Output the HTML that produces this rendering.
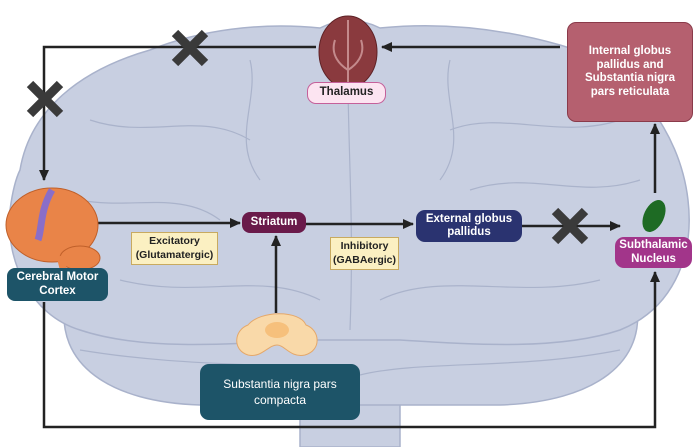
<!DOCTYPE html>
<html><head><meta charset="utf-8"><style>
html,body{margin:0;padding:0;background:#fff;}
body{width:699px;height:447px;position:relative;overflow:hidden;font-family:"Liberation Sans",sans-serif;}
.b{position:absolute;box-sizing:border-box;display:flex;align-items:center;justify-content:center;text-align:center;font-weight:bold;font-size:11.5px;line-height:13.5px;color:#fff;}
</style></head><body>
<svg width="699" height="447" style="position:absolute;left:0;top:0">
<defs><marker id="a" markerWidth="11" markerHeight="10" refX="10" refY="5" orient="auto" markerUnits="userSpaceOnUse"><path d="M0,0 L11,5 L0,10z" fill="#222"/></marker></defs>
<g fill="#c8cfe1" stroke="#a9b2cb" stroke-width="1.5">
<path d="M300,380 L300,447 L400,447 L400,380z"/>
<path d="M65,300 C55,365 110,402 200,405 L500,405 C595,402 648,362 636,300z"/>
<path d="M20,170 C30,110 80,70 150,50 C200,30 260,22 320,28 C340,18 360,18 380,28 C440,22 500,28 560,45 C630,65 680,130 688,200 C695,260 670,310 620,330 C560,350 480,345 400,340 L300,340 C220,345 140,350 80,330 C30,315 5,260 10,210 C12,195 15,180 20,170z"/>
</g>
<g fill="none" stroke="#aab3cb" stroke-width="1.2">
<path d="M349,30 C345,120 355,200 350,330"/>
<path d="M90,120 C150,140 200,110 250,140 M450,130 C500,110 560,140 620,120 M80,200 C130,210 180,190 220,220 M470,190 C530,170 580,200 640,180 M120,280 C200,300 260,270 320,300 M380,300 C440,270 520,300 600,280 M80,350 C200,370 300,360 340,375 M360,375 C420,360 520,370 620,350 M250,60 C260,100 230,140 260,180 M450,60 C440,100 470,140 440,180"/>
</g>
<g stroke="#222" stroke-width="2.5" fill="none">
<path d="M316,47 L44,47 L44,180" marker-end="url(#a)"/>
<path d="M560,47 L382,47" marker-end="url(#a)"/>
<path d="M98,223 L240,223" marker-end="url(#a)"/>
<path d="M306,224 L413,224" marker-end="url(#a)"/>
<path d="M522,226 L620,226" marker-end="url(#a)"/>
<path d="M276,313 L276,236" marker-end="url(#a)"/>
<path d="M655,193 L655,124" marker-end="url(#a)"/>
<path d="M44,302 L44,427 L655,427 L655,272" marker-end="url(#a)"/>
</g>
<g stroke="#3a3a3a" stroke-width="9">
<path d="M175,33 L205,63 M205,33 L175,63"/>
<path d="M30,84 L60,114 M60,84 L30,114"/>
<path d="M555,211 L585,241 M585,211 L555,241"/>
</g>
<ellipse cx="348" cy="52" rx="29" ry="36" fill="#8a3a3e" stroke="#5e2226"/>
<path d="M348,20 L348,88 M335,40 C330,55 340,65 348,70 M361,40 C366,55 356,65 348,70" stroke="#c48a8c" stroke-width="2" fill="none"/>
<ellipse cx="52" cy="225" rx="46" ry="37" fill="#e98448" stroke="#c0602a"/>
<ellipse cx="80" cy="258" rx="20" ry="12" fill="#e98448" stroke="#c0602a"/>
<path d="M60,256 L66,280" stroke="#e98448" stroke-width="7"/>
<path d="M52,190 C40,210 42,230 38,240" stroke="#8a6ec8" stroke-width="7" fill="none"/>
<ellipse cx="654" cy="216" rx="10" ry="17" transform="rotate(25 654 216)" fill="#1e6b24"/>
<path d="M248,325 C260,310 300,310 306,325 C320,330 322,350 305,355 C290,358 285,345 277,345 C268,345 262,358 248,355 C232,350 234,330 248,325z" fill="#f9d9a9" stroke="#e5a86a"/>
<ellipse cx="277" cy="330" rx="12" ry="8" fill="#f6c07c"/>
</svg>
<div class="b" style="left:307px;top:82px;width:79px;height:22px;background:#fce4f1;border:1.5px solid #c5609a;border-radius:9px;color:#222;">Thalamus</div>
<div class="b" style="left:567px;top:22px;width:126px;height:100px;background:#b5606f;border:1.5px solid #8a3a4a;border-radius:9px;padding:0 6px;">Internal globus pallidus and Substantia nigra pars reticulata</div>
<div class="b" style="left:7px;top:268px;width:101px;height:33px;background:#1d5468;border-radius:8px;">Cerebral Motor Cortex</div>
<div class="b" style="left:242px;top:212px;width:64px;height:21px;background:#6a1a4a;border-radius:8px;">Striatum</div>
<div class="b" style="left:131px;top:232px;width:87px;height:33px;background:#fbf0c2;border:1px solid #c8aa60;color:#222;font-size:10.5px;">Excitatory (Glutamatergic)</div>
<div class="b" style="left:330px;top:237px;width:69px;height:33px;background:#fbf0c2;border:1px solid #c8aa60;color:#222;font-size:10.5px;">Inhibitory (GABAergic)</div>
<div class="b" style="left:416px;top:210px;width:106px;height:32px;background:#2a3370;border-radius:9px;">External globus pallidus</div>
<div class="b" style="left:615px;top:237px;width:77px;height:31px;background:#a2358a;border-radius:9px;">Subthalamic Nucleus</div>
<div class="b" style="left:200px;top:364px;width:160px;height:56px;background:#1d5468;border-radius:9px;font-weight:normal;font-size:12px;line-height:16px;padding:0 18px;">Substantia nigra pars compacta</div>
</body></html>
